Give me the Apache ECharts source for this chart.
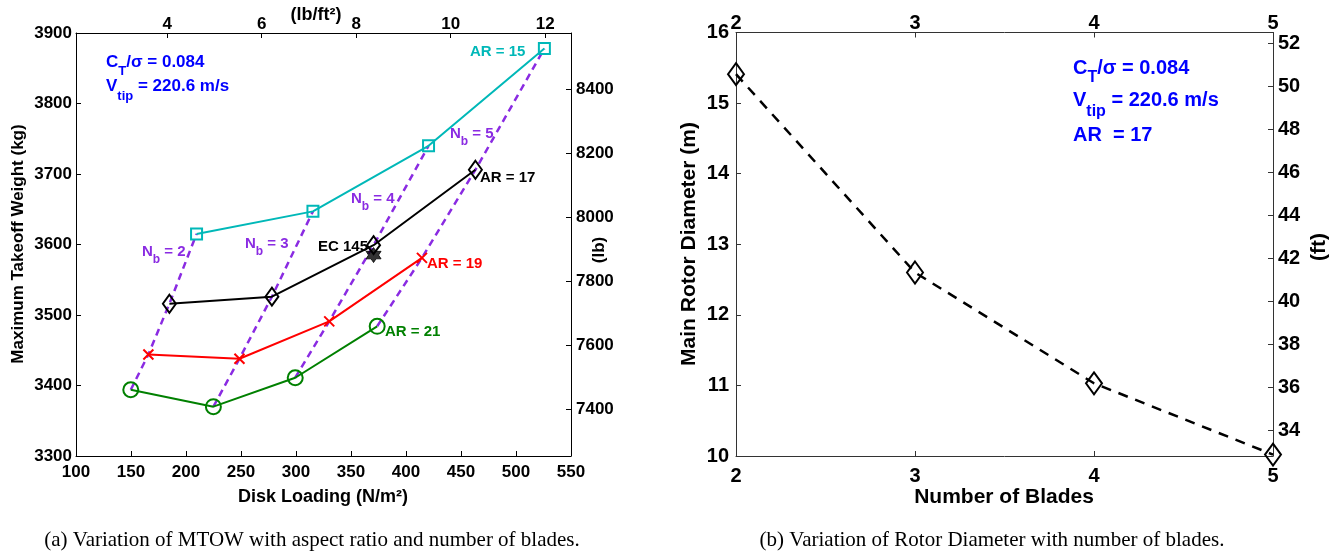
<!DOCTYPE html>
<html>
<head>
<meta charset="utf-8">
<script src="https://cdn.jsdelivr.net/npm/echarts@6/dist/echarts.min.js"></script>
<style>
html,body{margin:0;padding:0;background:#fff;}
#chart{width:1339px;height:552px;}
</style>
</head>
<body>
<div id="chart"></div>
<script>
// ---- Data (panel a): Disk loading (N/m^2) vs MTOW (kg) for each aspect ratio ----
const dlAR15 = [209.6, 315.4, 420.5, 525.8];
const mtowAR15 = [3615, 3647, 3740, 3878];
const dlAR17 = [184.9, 278.1, 370.5, 463.1];
const mtowAR17 = [3516, 3526, 3599, 3706];
const dlAR19 = [165.8, 248.6, 330.2, 414.5];
const mtowAR19 = [3444, 3438, 3491, 3581];
const dlAR21 = [149.8, 224.9, 299.3, 373.8];
const mtowAR21 = [3394, 3370, 3411, 3484];
const ec145 = [370.5, 3585];
const bladeCounts = [2, 3, 4, 5];
// secondary tick labels
const lbTicks = [7400, 7600, 7800, 8000, 8200, 8400];
const psfTicks = [4, 6, 8, 10, 12];
// ---- Data (panel b): number of blades vs main rotor diameter (m) ----
const blades = [2, 3, 4, 5];
const diameter = [15.41, 12.60, 11.03, 10.02];
const ftTicks = [34, 36, 38, 40, 42, 44, 46, 48, 50, 52];

const FONT = '"Liberation Sans", Arial, sans-serif';
const SERIF = '"Liberation Serif", "Times New Roman", serif';
const pair = (xs, ys) => xs.map((x, i) => [x, ys[i]]);

const cyan = '#00b8b8', purple = '#8a2be2', blue = '#0000ff', green = '#008000', red = '#ff0000';

const crossPath = 'path://M0,0L10,10M10,0L0,10';
const starPath = 'path://M0,-10L2.9,-5L8.66,-5L5.8,0L8.66,5L2.9,5L0,10L-2.9,5L-8.66,5L-5.8,0L-8.66,-5L-2.9,-5Z';

function axisCommon(color, fs, margin) {
  return {
    axisLine: {show: true, onZero: false, lineStyle: {color: color, width: 1}},
    axisTick: {show: true, inside: true, length: 5, lineStyle: {color: color}},
    axisLabel: {color: '#000', fontSize: fs, fontWeight: 'bold', fontFamily: FONT, margin: margin,
      showMinLabel: true, showMaxLabel: true, formatter: v => String(v)},
    splitLine: {show: false}
  };
}
function merge(a, b) {
  const o = Object.assign({}, a, b);
  ['axisLine', 'axisTick', 'axisLabel'].forEach(k => { if (b[k]) o[k] = Object.assign({}, a[k], b[k]); });
  return o;
}

const arSeries = [
  {name: 'AR = 15', xs: dlAR15, ys: mtowAR15, color: cyan, symbol: 'rect', size: 11},
  {name: 'AR = 17', xs: dlAR17, ys: mtowAR17, color: '#000', symbol: 'diamond', size: [13, 18]},
  {name: 'AR = 19', xs: dlAR19, ys: mtowAR19, color: red, symbol: crossPath, size: 10},
  {name: 'AR = 21', xs: dlAR21, ys: mtowAR21, color: green, symbol: 'circle', size: 15}
];

const series = [];
// N_b dashed lines join equal blade counts across aspect ratios
bladeCounts.forEach((nb, i) => {
  series.push({
    type: 'line', name: 'Nb' + nb, xAxisIndex: 0, yAxisIndex: 0, z: 2,
    data: [[dlAR21[i], mtowAR21[i]], [dlAR19[i], mtowAR19[i]], [dlAR17[i], mtowAR17[i]], [dlAR15[i], mtowAR15[i]]],
    symbol: 'none', lineStyle: {color: purple, width: 2.5, type: [7, 5]}, silent: true
  });
});
arSeries.forEach(s => {
  series.push({
    type: 'line', name: s.name, xAxisIndex: 0, yAxisIndex: 0, z: 3,
    data: pair(s.xs, s.ys),
    symbol: s.symbol, symbolSize: s.size, showAllSymbol: true,
    lineStyle: {color: s.color, width: 2},
    itemStyle: {color: 'rgba(0,0,0,0)', borderColor: s.color, borderWidth: 2},
    silent: true
  });
});
series.push({
  type: 'scatter', name: 'EC 145', xAxisIndex: 0, yAxisIndex: 0, z: 4,
  data: [ec145], symbol: starPath, symbolSize: 15,
  itemStyle: {color: '#000', borderColor: '#000', borderWidth: 1}
});
series.push({
  type: 'line', name: 'Diameter', xAxisIndex: 2, yAxisIndex: 2, z: 3,
  data: pair(blades, diameter),
  symbol: 'diamond', symbolSize: [16, 22], showAllSymbol: true,
  lineStyle: {color: '#000', width: 2.5, type: [10, 8]},
  itemStyle: {color: 'rgba(0,0,0,0)', borderColor: '#000', borderWidth: 2}
});

const L = axisCommon('#000', 17, 5);
const R = axisCommon('#333', 20, 6);

function txt(x, y, text, fs, color, align) {
  return {
    type: 'text', x: x, y: y, silent: true,
    style: {text: text, font: 'bold ' + fs + 'px ' + FONT, fill: color, textAlign: align || 'left', textVerticalAlign: 'middle'}
  };
}
function subTxt(x, y, main, sub, rest, fs, subFs, color, shift) {
  return {
    type: 'text', x: x, y: y, silent: true,
    style: {
      text: '{m|' + main + '}{s|' + sub + '}{m|' + rest + '}',
      textAlign: 'left', textVerticalAlign: 'middle',
      rich: {
        m: {fontSize: fs, fontWeight: 'bold', fontFamily: FONT, fill: color},
        s: {fontSize: subFs, fontWeight: 'bold', fontFamily: FONT, fill: color, padding: [shift * 2, 0, 0, 0]}
      }
    }
  };
}
function rotTxt(x, y, text, fs) {
  return {
    type: 'text', x: x, y: y, rotation: Math.PI / 2, silent: true,
    style: {text: text, font: 'bold ' + fs + 'px ' + FONT, fill: '#000', textAlign: 'center', textVerticalAlign: 'middle'}
  };
}

const option = {
  animation: false,
  backgroundColor: '#fff',
  textStyle: {fontFamily: FONT},
  grid: [
    {left: 76, top: 33, width: 495, height: 423, containLabel: false},
    {left: 736, top: 32.5, width: 537, height: 423.5, containLabel: false}
  ],
  xAxis: [
    merge(L, {gridIndex: 0, type: 'value', position: 'bottom', min: 100, max: 550, interval: 50, axisLabel: {margin: 8}}),
    merge(L, {gridIndex: 0, type: 'value', position: 'top', min: 2.07, max: 12.545,
      axisTick: {customValues: psfTicks}, axisLabel: {customValues: psfTicks, margin: 0}}),
    merge(R, {gridIndex: 1, type: 'value', position: 'bottom', min: 2, max: 5, interval: 1, axisLabel: {margin: 10}}),
    merge(R, {gridIndex: 1, type: 'value', position: 'top', min: 2, max: 5, interval: 1, axisLabel: {margin: -1}})
  ],
  yAxis: [
    merge(L, {gridIndex: 0, type: 'value', position: 'left', min: 3300, max: 3900, interval: 100, axisLabel: {margin: 4}}),
    merge(L, {gridIndex: 0, type: 'value', position: 'right', min: 7254, max: 8577,
      axisTick: {customValues: lbTicks}, axisLabel: {customValues: lbTicks, margin: 5}}),
    merge(R, {gridIndex: 1, type: 'value', position: 'left', min: 10, max: 16, interval: 1, axisLabel: {margin: 7}}),
    merge(R, {gridIndex: 1, type: 'value', position: 'right', min: 32.808, max: 52.493,
      axisTick: {customValues: ftTicks}, axisLabel: {customValues: ftTicks, margin: 5}})
  ],
  series: series,
  graphic: [
    // panel a axis titles
    txt(323, 497, 'Disk Loading (N/m²)', 18, '#000', 'center'),
    txt(316, 15, '(lb/ft²)', 18, '#000', 'center'),
    rotTxt(18, 244, 'Maximum Takeoff Weight (kg)', 17),
    rotTxt(599, 250, '(lb)', 17),
    // panel a annotations
    subTxt(106, 62, 'C', 'T', '/σ = 0.084', 17, 13, blue, 9),
    subTxt(106, 86, 'V', 'tip', ' = 220.6 m/s', 17, 13, blue, 10),
    txt(470, 52, 'AR = 15', 15, cyan),
    txt(480, 178, 'AR = 17', 15, '#000'),
    txt(427, 264, 'AR = 19', 15, red),
    txt(385, 332, 'AR = 21', 15, green),
    txt(318, 247, 'EC 145', 15, '#000'),
    subTxt(142, 252, 'N', 'b', ' = 2', 15, 12, purple, 8),
    subTxt(245, 244, 'N', 'b', ' = 3', 15, 12, purple, 8),
    subTxt(351, 199, 'N', 'b', ' = 4', 15, 12, purple, 8),
    subTxt(450, 134, 'N', 'b', ' = 5', 15, 12, purple, 8),
    // panel b axis titles
    txt(1004, 497, 'Number of Blades', 21, '#000', 'center'),
    rotTxt(689, 244, 'Main Rotor Diameter (m)', 21),
    rotTxt(1319, 247, '(ft)', 21),
    // panel b annotations
    subTxt(1073, 68, 'C', 'T', '/σ = 0.084', 20, 16, blue, 10),
    subTxt(1073, 100, 'V', 'tip', ' = 220.6 m/s', 20, 16, blue, 12),
    txt(1073, 135, 'AR  = 17', 20, blue),
    // captions
    {type: 'text', x: 312, y: 540, silent: true, style: {text: '(a) Variation of MTOW with aspect ratio and number of blades.', font: '21px ' + SERIF, fill: '#000', textAlign: 'center', textVerticalAlign: 'middle'}},
    {type: 'text', x: 992, y: 540, silent: true, style: {text: '(b) Variation of Rotor Diameter with number of blades.', font: '21px ' + SERIF, fill: '#000', textAlign: 'center', textVerticalAlign: 'middle'}}
  ]
};

const chart = echarts.init(document.getElementById('chart'), null, {renderer: 'canvas'});
chart.setOption(option);
</script>
</body>
</html>
